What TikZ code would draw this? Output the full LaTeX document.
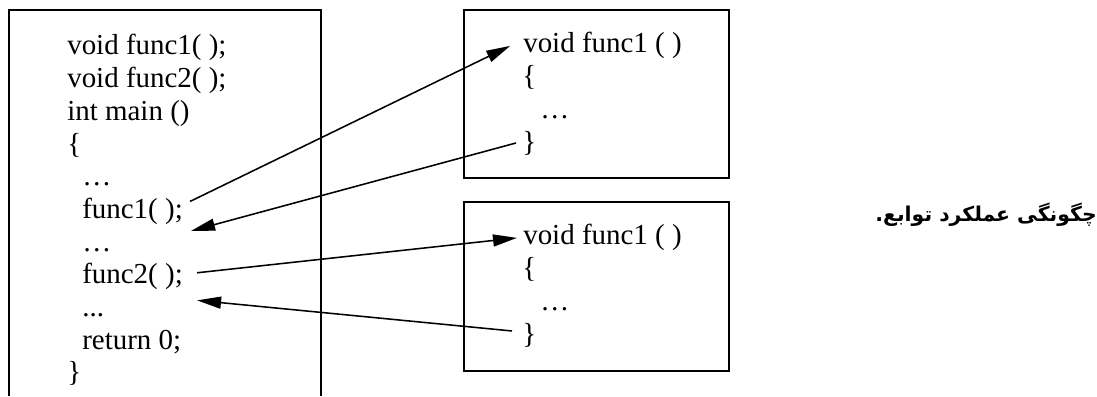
\documentclass[tikz,border=0pt]{standalone}
\usepackage{fontspec}
\setmainfont{Liberation Serif}
\newfontfamily\persianfont[Script=Arabic]{DejaVu Sans}
\TeXXeTstate=1
\usetikzlibrary{arrows.meta}

\tikzset{
	codeline/.style={anchor=base west, inner sep=0pt, font=\fontsize{20.6}{24}\selectfont},
	frame/.style={line width=1.4pt},
	callArrow/.style={line width=1.1pt, -{Triangle[length=6mm, width=3mm]}}
}

\begin{document}
\begin{tikzpicture}
	\useasboundingbox (0,0) rectangle (27.425,9.9);

	% main program, its frame is open at the bottom
	\draw[frame] (0.225,0) -- (0.225,9.65) -- (8.025,9.65) -- (8.025,0);
	\node[codeline](declOne) at (1.675,8.525){void func1( );};
	\node[codeline](declTwo) at (1.675,7.7075){void func2( );};
	\node[codeline](mainHead) at (1.675,6.89){int main ()};
	\node[codeline](mainOpen) at (1.675,6.0725){\{};
	\node[codeline](dotsOne) at (2.05,5.255){…};
	\node[codeline](callOne) at (2.05,4.4375){func1( );};
	\node[codeline](dotsTwo) at (2.05,3.62){…};
	\node[codeline](callTwo) at (2.05,2.8025){func2( );};
	\node[codeline](dotsThree) at (2.05,1.985){...};
	\node[codeline](mainRet) at (2.05,1.1675){return 0;};
	\node[codeline](mainClose) at (1.675,0.35){\}};

	% first function
	\node[rectangle, draw, frame, minimum width=6.625cm, minimum height=4.2cm](boxOne) at (14.9125,7.55){};
	\node[codeline](defOne) at (13.075,8.575){void func1 ( )};
	\node[codeline](openOne) at (13.05,7.7575){\{};
	\node[codeline](bodyOne) at (13.5,6.94){…};
	\node[codeline](closeOne) at (13.05,6.1225){\}};

	% second function
	\node[rectangle, draw, frame, minimum width=6.625cm, minimum height=4.225cm](boxTwo) at (14.9125,2.7375){};
	\node[codeline](defTwo) at (13.075,3.775){void func1 ( )};
	\node[codeline](openTwo) at (13.05,2.9575){\{};
	\node[codeline](bodyTwo) at (13.5,2.14){…};
	\node[codeline](closeTwo) at (13.05,1.3225){\}};

	\draw[callArrow]([xshift=1.75mm, yshift=-0.9mm]callOne.north east) -- ([xshift=-3.2mm]defOne.west);
	\draw[callArrow]([xshift=-1.5mm]closeOne.west) -- ([xshift=2mm, yshift=-1.5mm]callOne.south east);
	\draw[callArrow]([xshift=3.5mm, yshift=1mm]callTwo.east) -- ([xshift=-1.5mm]defTwo.west);
	\draw[callArrow]([xshift=-2.5mm, yshift=1mm]closeTwo.west) -- ([xshift=3.5mm, yshift=-2.5mm]callTwo.south east);

	\node[anchor=east, inner sep=0pt, font=\persianfont\bfseries\fontsize{14.5}{16}\selectfont](caption) at (27.425,4.53){\beginR چگونگی عملکرد توابع.\endR};
\end{tikzpicture}
\end{document}
